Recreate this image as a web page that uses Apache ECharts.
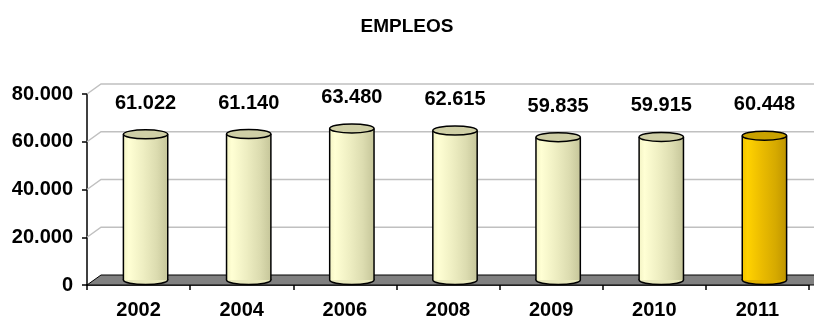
<!DOCTYPE html>
<html>
<head>
<meta charset="utf-8">
<script src="https://cdn.jsdelivr.net/npm/echarts@6/dist/echarts.min.js"></script>
<style>html,body{margin:0;padding:0;background:#fff;}#c{width:814px;height:320px;}</style>
</head>
<body>
<div id="c"></div>
<script>
var categories = ['2002', '2004', '2006', '2008', '2009', '2010', '2011'];
var values = [61022, 61140, 63480, 62615, 59835, 59915, 60448];
var highlighted = [false, false, false, false, false, false, true];
var yTicks = [20000, 40000, 60000, 80000];

var DX = 14, DY = 10;
var FONT = '"Liberation Sans", Arial, sans-serif';

function fmt(v) {
  var s = String(Math.round(v));
  return s.replace(/\B(?=(\d{3})+(?!\d))/g, '.');
}

var cream = new echarts.graphic.LinearGradient(0, 0, 1, 0, [
  {offset: 0, color: '#f3f3c4'}, {offset: 0.12, color: '#ffffd4'},
  {offset: 0.45, color: '#eeeec2'}, {offset: 0.75, color: '#dcdcb0'},
  {offset: 1, color: '#c6c69a'}]);
var gold = new echarts.graphic.LinearGradient(0, 0, 1, 0, [
  {offset: 0, color: '#f2c400'}, {offset: 0.12, color: '#ffd200'},
  {offset: 0.45, color: '#eabb00'}, {offset: 0.75, color: '#d6aa00'},
  {offset: 1, color: '#bf9500'}]);

var chart = echarts.init(document.getElementById('c'));
chart.setOption({
  animation: false,
  title: {
    text: 'EMPLEOS', left: 'center', top: 12,
    textStyle: {fontFamily: FONT, fontSize: 19, fontWeight: 'bold', color: '#000'}
  },
  grid: {left: 87, right: 5, top: 94, bottom: 32},
  xAxis: {
    type: 'category', data: categories, boundaryGap: true,
    axisLine: {lineStyle: {color: '#000', width: 1.5}},
    axisTick: {show: true, length: 5, lineStyle: {color: '#000', width: 1.5}},
    axisLabel: {margin: 15, color: '#000', fontFamily: FONT, fontSize: 20, fontWeight: 'bold'}
  },
  yAxis: {
    type: 'value', min: 0, max: 80000, interval: 20000,
    axisLine: {show: true, lineStyle: {color: '#000', width: 1.5}},
    axisTick: {show: true, length: 5, lineStyle: {color: '#000', width: 1.5}},
    splitLine: {show: false},
    axisLabel: {margin: 14, color: '#000', fontFamily: FONT, fontSize: 20, fontWeight: 'bold', formatter: fmt}
  },
  series: [
    {
      type: 'custom', z: 1, silent: true, clip: false,
      data: yTicks,
      encode: {y: 0},
      renderItem: function (params, api) {
        var cs = params.coordSys;
        var y = api.coord([0, api.value(0)])[1];
        return {
          type: 'polyline',
          shape: {points: [[cs.x, y], [cs.x + DX, y - DY], [cs.x + cs.width + DX + 10, y - DY]]},
          style: {stroke: '#c0c0c0', lineWidth: 1.5, fill: null}
        };
      }
    },
    {
      type: 'custom', z: 2, silent: true, clip: false,
      data: [0],
      encode: {y: 0},
      renderItem: function (params, api) {
        var cs = params.coordSys;
        var y = api.coord([0, 0])[1];
        var x0 = cs.x, x1 = cs.x + cs.width;
        return {
          type: 'polygon',
          shape: {points: [[x0, y], [x0 + DX, y - DY], [x1 + DX + 10, y - DY], [x1 + 10, y]]},
          style: {fill: '#808080', stroke: '#000', lineWidth: 1}
        };
      }
    },
    {
      type: 'custom', z: 3, silent: true, clip: false,
      data: values.map(function (v, i) { return [i, v]; }),
      encode: {x: 0, y: 1},
      renderItem: function (params, api) {
        var i = api.value(0), v = api.value(1);
        var top = api.coord([i, v]);
        var base = api.coord([i, 0]);
        var bw = api.size([1, 0])[0] * 0.43;
        var cx = top[0] + DX / 2;
        var yT = top[1] - DY / 2, yB = base[1] - DY / 2;
        var l = cx - bw / 2, r = cx + bw / 2;
        var ry = 4.5;
        var hi = highlighted[params.dataIndex];
        var fill = hi ? gold : cream;
        var topFill = hi ? '#c9a200' : '#cfcfa6';
        return {
          type: 'group',
          children: [
            {type: 'ellipse', shape: {cx: cx, cy: yB, rx: bw / 2, ry: ry},
             style: {fill: hi ? '#e0b000' : '#e8e8bc', stroke: '#000', lineWidth: 1.5}},
            {type: 'rect', shape: {x: l, y: yT, width: bw, height: yB - yT},
             style: {fill: fill, stroke: null}},
            {type: 'line', shape: {x1: l, y1: yT, x2: l, y2: yB}, style: {stroke: '#000', lineWidth: 1.5}},
            {type: 'line', shape: {x1: r, y1: yT, x2: r, y2: yB}, style: {stroke: '#000', lineWidth: 1.5}},
            {type: 'ellipse', shape: {cx: cx, cy: yT, rx: bw / 2, ry: ry},
             style: {fill: topFill, stroke: '#000', lineWidth: 1.5}},
            {type: 'text', x: cx, y: yT - 31,
             style: {text: fmt(v), fill: '#000', font: 'bold 20px ' + FONT, align: 'center', verticalAlign: 'middle'}}
          ]
        };
      }
    }
  ]
});
</script>
</body>
</html>
